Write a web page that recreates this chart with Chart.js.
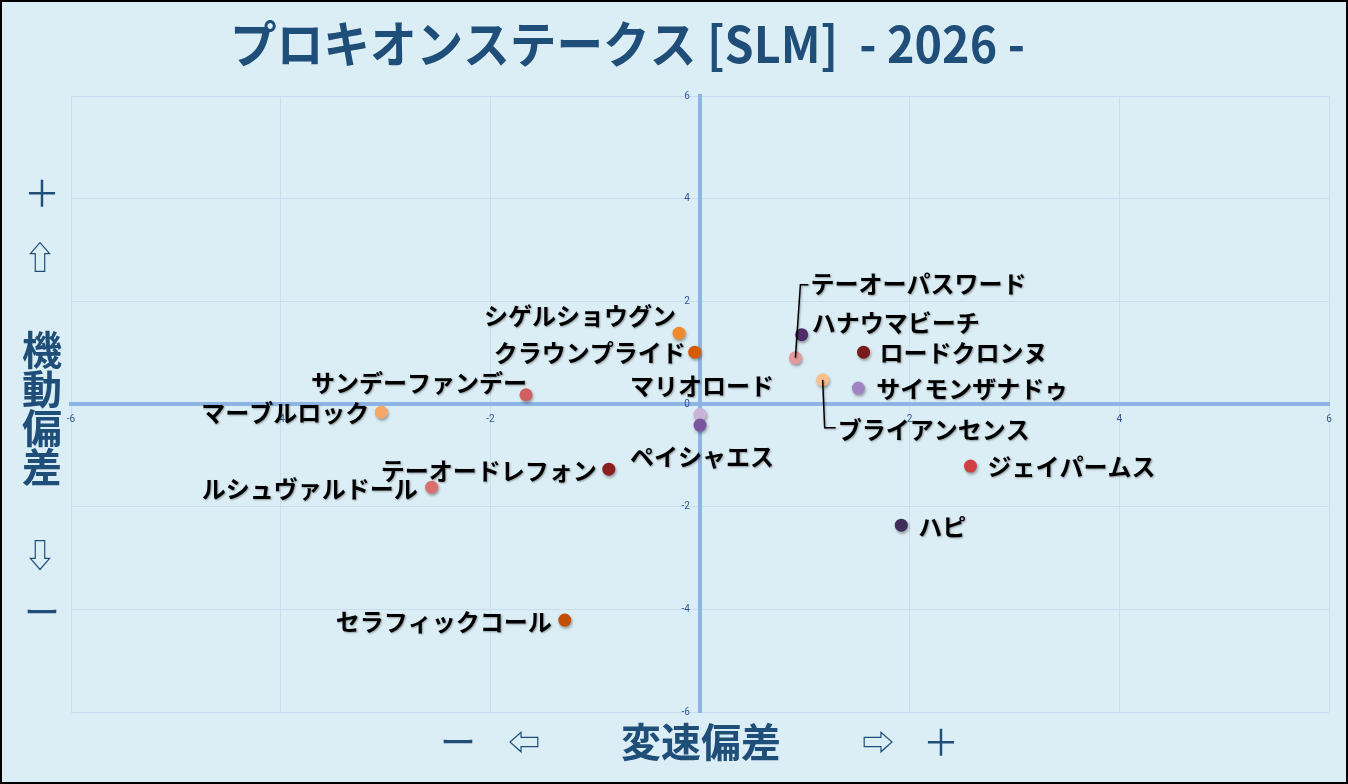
<!DOCTYPE html>
<html lang="ja">
<head>
<meta charset="utf-8">
<title>プロキオンステークス [SLM] - 2026 -</title>
<script src="https://cdn.jsdelivr.net/npm/chart.js@4.4.1/dist/chart.umd.min.js"></script>
<style>
  html, body { margin: 0; padding: 0; background: #DCEEF5; }
  #wrap { position: relative; width: 1348px; height: 784px; }
</style>
</head>
<body>
<div id="wrap"><canvas id="chart"></canvas></div>
<script>
// ---- data ----
var horses = [
  "シゲルショウグン", "クラウンプライド", "マリオロード", "ペイシャエス",
  "サンデーファンデー", "マーブルロック", "テーオーパスワード", "ハナウマビーチ",
  "ロードクロンヌ", "ブライアンセンス", "サイモンザナドゥ", "ジェイパームス",
  "ハピ", "テーオードレフォン", "ルシュヴァルドール", "セラフィックコール"
];
var speedDev = [-0.20, -0.05, 0.00, 0.00, -1.66, -3.04, 0.91, 0.97, 1.56, 1.17, 1.51, 2.58, 1.92, -0.87, -2.56, -1.29];
var agilityDev = [1.38, 1.01, -0.20, -0.41, 0.18, -0.16, 0.90, 1.35, 1.01, 0.47, 0.31, -1.21, -2.36, -1.27, -1.62, -4.21];
var axisTicks = [-6, -4, -2, 0, 2, 4, 6];

// ---- styles ----
var pointColors = [
  "#EE8A30", "#D65A00", "#C9B3D6", "#7B559F",
  "#D06060", "#F5A868", "#E49A9A", "#4E2E6A",
  "#7A1A1A", "#FBC08A", "#A283C2", "#D04040",
  "#3F2D5A", "#8B1E1E", "#D87070", "#C05000"
];
// label placement: [dx, dy, align, leader]
var labelPlace = [
  [-3, -17, "right"], [-9, 1, "right"], [2, -28, "center"], [2, 32, "center"],
  [1, -12, "right"], [-12, 1, "right"], [15, -74, "left", true], [10, -12, "left"],
  [16, 1, "left"], [15, 50, "left", true], [18, 1, "left"], [17, 1, "left"],
  [17, 2, "left"], [-12, 2, "right"], [-14, 2, "right"], [-13, 2, "right"]
];
var NAVY = "#1F4E79";
var JP = '"Noto Sans CJK JP", "Noto Sans", sans-serif';

var decor = {
  id: "decor",
  beforeDraw: function(chart) {
    var ctx = chart.ctx;
    ctx.save();
    ctx.fillStyle = "#DCEEF5";
    ctx.fillRect(0, 0, chart.width, chart.height);
    ctx.restore();
  },
  beforeDatasetsDraw: function(chart) {
    var ctx = chart.ctx;
    ctx.save();
    ctx.shadowColor = "rgba(0,0,0,0.35)";
    ctx.shadowBlur = 3;
    ctx.shadowOffsetX = 1;
    ctx.shadowOffsetY = 2;
  },
  afterDatasetsDraw: function(chart) {
    chart.ctx.restore();
  },
  afterDraw: function(chart) {
    var ctx = chart.ctx;
    var meta = chart.getDatasetMeta(0);
    ctx.save();

    // point labels
    ctx.font = "bold 24px " + JP;
    ctx.textBaseline = "middle";
    meta.data.forEach(function(pt, i) {
      var p = labelPlace[i];
      var tx = pt.x + p[0], ty = pt.y + p[1];
      if (p[3]) {
        ctx.strokeStyle = "#000";
        ctx.lineWidth = 1.5;
        ctx.beginPath();
        ctx.moveTo(pt.x, pt.y);
        ctx.lineTo(pt.x + (p[1] < 0 ? 5 : 2), ty + (p[1] < 0 ? 1 : -2));
        ctx.lineTo(tx - 2, ty + (p[1] < 0 ? 1 : -2));
        ctx.stroke();
      }
      ctx.textAlign = p[2];
      ctx.shadowColor = "rgba(0,0,0,0.35)";
      ctx.shadowBlur = 2;
      ctx.shadowOffsetX = 1;
      ctx.shadowOffsetY = 1;
      ctx.fillStyle = "#000";
      ctx.fillText(horses[i], tx, ty);
    });
    ctx.shadowColor = "transparent";

    // title
    ctx.fillStyle = NAVY;
    ctx.textAlign = "left";
    ctx.textBaseline = "middle";
    ctx.font = "bold 50px " + JP;
    ctx.fillText("プロキオンステークス [SLM]  - 2026 -", 230, 44, 795);

    // vertical caption
    ctx.textAlign = "center";
    ctx.font = "36px " + JP;
    ctx.fillText("＋", 42, 193);
    ctx.fillText("ー", 42, 612);
    ctx.font = "32px " + JP;
    ctx.fillText("⇧", 40, 257);
    ctx.fillText("⇩", 40, 555);
    ctx.font = "bold 40px " + JP;
    ["機", "動", "偏", "差"].forEach(function(c, k) {
      ctx.fillText(c, 42, 350 + k * 39);
    });

    // horizontal caption
    ctx.font = "36px " + JP;
    ctx.fillText("ー", 458, 742);
    ctx.fillText("＋", 941, 742);
    ctx.font = "32px " + JP;
    ctx.fillText("⇦", 524, 742);
    ctx.fillText("⇨", 878, 742);
    ctx.font = "bold 40px " + JP;
    ctx.fillText("変速偏差", 701, 742);

    // outer frame
    ctx.strokeStyle = "#000";
    ctx.lineWidth = 2;
    ctx.strokeRect(1, 1, chart.width - 2, chart.height - 2);
    ctx.restore();
  }
};

var tickFont = { family: "Roboto, sans-serif", size: 10 };

new Chart(document.getElementById("chart"), {
  type: "scatter",
  data: {
    datasets: [{
      label: "horses",
      data: horses.map(function(h, i) { return { x: speedDev[i], y: agilityDev[i] }; }),
      backgroundColor: pointColors,
      borderColor: pointColors,
      borderWidth: 0,
      pointRadius: 6.5,
      pointHoverRadius: 6.5
    }]
  },
  options: {
    responsive: true,
    maintainAspectRatio: false,
    animation: false,
    layout: { padding: { left: 71, right: 19, top: 96, bottom: 72 } },
    plugins: {
      legend: { display: false },
      tooltip: { enabled: false }
    },
    scales: {
      x: {
        type: "linear",
        min: -6, max: 6,
        position: { y: 0 },
        afterFit: function(s) { s.height = 0; },
        afterBuildTicks: function(s) { s.ticks = axisTicks.map(function(v) { return { value: v }; }); },
        grid: { color: "#C9DDEF", lineWidth: 1, drawTicks: false },
        border: { color: "#8DB4E2", width: 4 },
        ticks: { font: tickFont, color: "#2F5597", padding: 9 }
      },
      y: {
        type: "linear",
        min: -6, max: 6,
        position: { x: 0 },
        afterFit: function(s) { s.width = 0; },
        afterBuildTicks: function(s) { s.ticks = axisTicks.map(function(v) { return { value: v }; }); },
        grid: { color: "#C9DDEF", lineWidth: 1, drawTicks: false },
        border: { color: "#8DB4E2", width: 4 },
        ticks: {
          font: tickFont, color: "#2F5597",
          callback: function(v) { return v + "\u2002\u2002"; }
        }
      }
    }
  },
  plugins: [decor]
});
</script>
</body>
</html>
